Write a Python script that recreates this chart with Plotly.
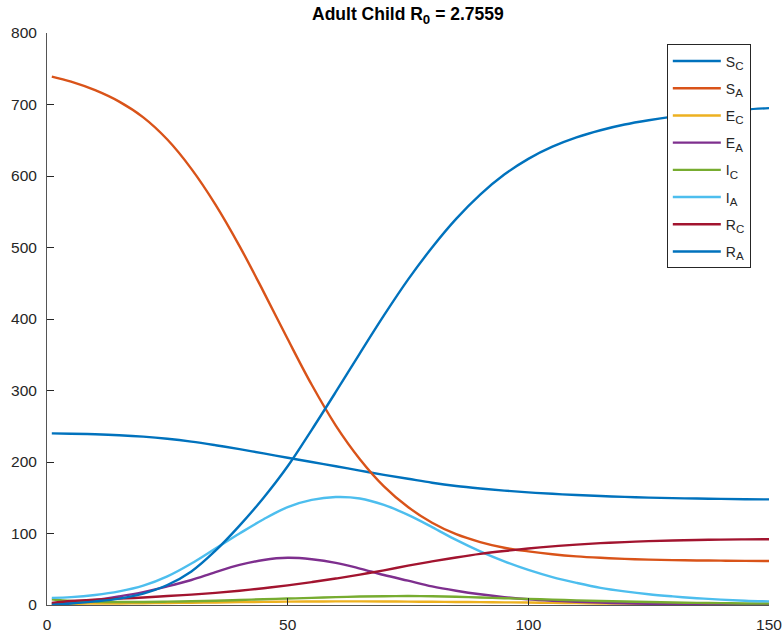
import plotly.graph_objects as go

t = [1, 5, 10, 15, 20, 25, 30, 35, 40, 45, 50, 55, 60, 65, 70, 75, 80, 85, 90, 95,
     100, 105, 110, 115, 120, 125, 130, 135, 140, 145, 150]

S_C = [240, 239.6, 238.8, 237.5, 235.5, 232.5, 228.5, 223.5, 218, 212, 206, 200, 194, 188, 182, 176.5,
       171, 166.5, 163, 160, 157.5, 155.5, 153.8, 152.4, 151.2, 150.2, 149.5, 148.9, 148.4, 148, 147.7]
S_A = [739, 732, 720, 704, 682, 651, 610, 560, 502, 438, 372, 308, 251, 204, 166, 137,
       115, 99, 88, 80, 75, 71, 68, 66, 64.5, 63.5, 62.8, 62.3, 62, 61.7, 61.5]
E_C = [1, 1.5, 2, 2.2, 2.5, 2.8, 3.1, 3.5, 4, 4.4, 4.7, 4.9, 5, 5, 4.9, 4.7,
       4.5, 4.2, 4, 3.7, 3.4, 3, 2.6, 2.2, 1.9, 1.6, 1.3, 1.1, 0.9, 0.7, 0.5]
E_A = [2, 4, 7, 12, 18, 26, 35, 46, 56, 63, 66, 64, 59, 51, 42, 34,
       26, 20, 15, 11, 8, 6, 4.5, 3.3, 2.4, 1.8, 1.3, 1, 0.7, 0.5, 0.4]
I_C = [8, 5.5, 4.5, 4.2, 4.3, 4.7, 5.2, 6, 7, 8, 9, 10, 11, 11.8, 12.3, 12.5,
       12.2, 11.5, 10.5, 9.5, 8.5, 7.5, 6.5, 5.6, 4.8, 4.1, 3.5, 3, 2.6, 2.2, 2]
I_A = [10, 11, 14, 19, 27, 40, 58, 79, 100, 120, 137, 147, 151, 149, 140, 126,
       109, 91, 75, 61, 49, 39, 31, 24, 19, 15, 12, 9.5, 7.5, 6, 5]
R_C = [3, 5.5, 7.5, 9, 10.5, 12.5, 14.5, 17, 20, 23.5, 27.5, 32, 37, 42.5, 48.5, 55,
       61, 66.5, 71.5, 75.5, 79, 82, 84.5, 86.5, 88, 89.3, 90.3, 91, 91.5, 91.8, 92]
R_A = [0, 2, 5, 9, 16, 28, 47, 76, 111, 150, 194, 245, 298, 352, 405, 455,
       500, 540, 574, 602, 624, 641, 654, 664, 672, 678, 683, 687, 690, 693, 695]

sub = '<span style="font-size:16.5px"><sub>{}</sub></span>'
series = [
    ("S" + sub.format("C"), S_C, "#0072BD"),
    ("S" + sub.format("A"), S_A, "#D95319"),
    ("E" + sub.format("C"), E_C, "#EDB120"),
    ("E" + sub.format("A"), E_A, "#7E2F8E"),
    ("I" + sub.format("C"), I_C, "#77AC30"),
    ("I" + sub.format("A"), I_A, "#4DBEEE"),
    ("R" + sub.format("C"), R_C, "#A2142F"),
    ("R" + sub.format("A"), R_A, "#0072BD"),
]

x_ticks = [0, 50, 100, 150]
y_ticks = [0, 100, 200, 300, 400, 500, 600, 700, 800]

fig = go.Figure()
for i, (name, vals, col) in enumerate(series):
    fig.add_trace(go.Scatter(
        x=t, y=vals, mode="lines", name=name, legendgroup=f"g{i}",
        line=dict(color=col, width=2.4, shape="spline", smoothing=1.0),
    ))

fig.update_layout(
    width=784, height=634,
    margin=dict(l=46.5, r=14.7, t=33.3, b=28.7, autoexpand=False),
    paper_bgcolor="white", plot_bgcolor="white",
    font=dict(family="Liberation Sans, Arial, sans-serif", color="#262626"),
    title=dict(
        text='<b>Adult Child R<span style="font-size:19px"><sub>0</sub></span> = 2.7559</b>',
        x=(46.5 + 769.3) / 2 / 784, xanchor="center",
        y=1 - 13.5 / 634, yanchor="middle", yref="container",
        font=dict(size=17.5, color="black"),
    ),
    showlegend=True,
    legend=dict(
        x=(667 - 46.5) / 722.8, xanchor="left", y=0.98, yanchor="top",
        bordercolor="#262626", borderwidth=1, bgcolor="white",
        font=dict(size=14, color="#262626"),
        traceorder="grouped", tracegroupgap=6, itemwidth=48,
    ),
    xaxis=dict(
        range=[0, 150], tickvals=x_ticks, ticks="inside", ticklen=7,
        tickcolor="#262626", showline=True, linecolor="#555555", linewidth=1,
        showgrid=False, zeroline=False, tickfont=dict(size=15.5),
        automargin=False, ticklabelstandoff=5,
    ),
    yaxis=dict(
        range=[0, 800], tickvals=y_ticks, ticks="inside", ticklen=7,
        tickcolor="#262626", showline=True, linecolor="#555555", linewidth=1,
        showgrid=False, zeroline=False, tickfont=dict(size=15.5),
        automargin=False, ticklabelstandoff=6,
    ),
)

fig.write_html("out.html")
